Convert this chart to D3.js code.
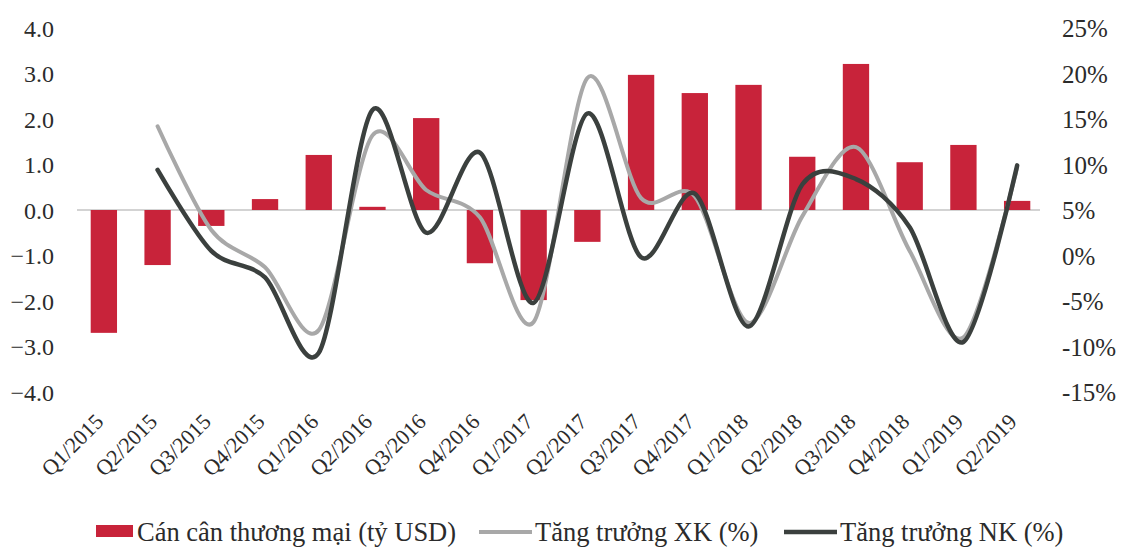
<!DOCTYPE html>
<html>
<head>
<meta charset="utf-8">
<script src="https://cdnjs.cloudflare.com/ajax/libs/d3/7.8.5/d3.min.js"></script>
<style>
  html, body { margin: 0; padding: 0; background: #fff; }
  svg { display: block; font-family: "Liberation Serif", "DejaVu Serif", serif; }
</style>
</head>
<body>
<div id="chart"></div>
<script>
// Quarters on the x axis
const quarters = [
    'Q1/2015', 'Q2/2015', 'Q3/2015', 'Q4/2015',
    'Q1/2016', 'Q2/2016', 'Q3/2016', 'Q4/2016',
    'Q1/2017', 'Q2/2017', 'Q3/2017', 'Q4/2017',
    'Q1/2018', 'Q2/2018', 'Q3/2018', 'Q4/2018',
    'Q1/2019', 'Q2/2019'
];

// Trade balance, billion USD (bars, left axis)
const tradeBalance = [
    -2.70, -1.21, -0.35, 0.24,
    1.21, 0.07, 2.02, -1.17,
    -1.98, -0.70, 2.97, 2.57,
    2.75, 1.17, 3.21, 1.05,
    1.43, 0.20
];

// Export growth, % (light line, right axis)
const exportGrowth = [
    null, 14.2, 2.8, -1.3,
    -8.2, 13.2, 7.2, 4.2,
    -7.3, 19.5, 6.3, 6.5,
    -7.4, 4.3, 11.9, 0.5,
    -9.0, 9.7
];

// Import growth, % (dark line, right axis)
const importGrowth = [
    null, 9.4, 0.5, -2.4,
    -10.7, 16.0, 2.5, 11.3,
    -5.2, 15.6, -0.2, 6.8,
    -7.8, 7.8, 8.4, 3.1,
    -9.5, 9.9
];

const leftTicks = [4, 3, 2, 1, 0, -1, -2, -3, -4];
const rightTicks = [25, 20, 15, 10, 5, 0, -5, -10, -15];

const legendItems = [
    { label: 'Cán cân thương mại (tỷ USD)', type: 'bar' },
    { label: 'Tăng trưởng XK (%)', type: 'xk' },
    { label: 'Tăng trưởng NK (%)', type: 'nk' }
];

const W = 1122, H = 547;
const plot = { left: 77, right: 1044, top: 28, bottom: 392 };
const colors = { bar: '#c8233a', xk: '#a8a8a8', nk: '#3b403e', zero: '#c4c4c4', text: '#2b2b2b' };

const svg = d3.select('#chart').append('svg')
    .attr('width', W)
    .attr('height', H);

const x = d3.scaleBand()
    .domain(quarters)
    .range([plot.left, plot.right])
    .paddingInner(0.51)
    .paddingOuter(0.255);

const yLeft = d3.scaleLinear().domain([-4, 4]).range([plot.bottom, plot.top]);
const yRight = d3.scaleLinear().domain([-15, 25]).range([plot.bottom, plot.top]);

const cx = q => x(q) + x.bandwidth() / 2;

// left axis labels
const leftAxis = d3.axisLeft(yLeft)
    .tickValues(leftTicks)
    .tickFormat(d3.format('.1f'))
    .tickSize(0)
    .tickPadding(0);
svg.append('g')
    .attr('transform', 'translate(54,0)')
    .call(leftAxis)
    .call(g => g.select('.domain').remove())
    .selectAll('text')
    .attr('font-size', 24)
    .attr('font-family', '"Liberation Serif", serif')
    .attr('fill', colors.text)
    .attr('dy', '0.34em');

// right axis labels
const rightAxis = d3.axisRight(yRight)
    .tickValues(rightTicks)
    .tickFormat(d => d + '%')
    .tickSize(0)
    .tickPadding(0);
svg.append('g')
    .attr('transform', 'translate(1062,0)')
    .call(rightAxis)
    .call(g => g.select('.domain').remove())
    .selectAll('text')
    .attr('font-size', 25)
    .attr('font-family', '"Liberation Serif", serif')
    .attr('fill', colors.text)
    .attr('dy', '0.34em');

// zero line
svg.append('line')
    .attr('x1', plot.left)
    .attr('x2', plot.right - 4)
    .attr('y1', yLeft(0))
    .attr('y2', yLeft(0))
    .attr('stroke', colors.zero)
    .attr('stroke-width', 1.5);

// bars
svg.append('g')
    .selectAll('rect')
    .data(tradeBalance)
    .enter()
    .append('rect')
    .attr('x', (d, i) => x(quarters[i]))
    .attr('width', x.bandwidth())
    .attr('y', d => yLeft(Math.max(0, d)))
    .attr('height', d => Math.abs(yLeft(d) - yLeft(0)))
    .attr('fill', colors.bar);

// smooth lines
const line = d3.line()
    .defined(d => d.v !== null)
    .x(d => cx(d.q))
    .y(d => yRight(d.v))
    .curve(d3.curveCardinal.tension(0.1));

const toPts = arr => arr.map((v, i) => ({ q: quarters[i], v }));

svg.append('path')
    .datum(toPts(exportGrowth))
    .attr('d', line)
    .attr('fill', 'none')
    .attr('stroke', colors.xk)
    .attr('stroke-width', 4)
    .attr('stroke-linecap', 'round');

svg.append('path')
    .datum(toPts(importGrowth))
    .attr('d', line)
    .attr('fill', 'none')
    .attr('stroke', colors.nk)
    .attr('stroke-width', 4.5)
    .attr('stroke-linecap', 'round');

// rotated quarter labels
svg.append('g')
    .selectAll('text')
    .data(quarters)
    .enter()
    .append('text')
    .attr('transform', d => `translate(${cx(d) + 1},${423}) rotate(-45)`)
    .attr('text-anchor', 'end')
    .attr('font-size', 22)
    .attr('fill', colors.text)
    .text(d => d);

// legend
const legendX = [96, 479, 784];
const legend = svg.append('g').attr('class', 'legend');
legendItems.forEach((item, i) => {
    const g = legend.append('g').attr('transform', `translate(${legendX[i]},0)`);
    if (item.type === 'bar') {
        g.append('rect')
            .attr('x', 0).attr('y', 525)
            .attr('width', 37).attr('height', 12)
            .attr('fill', colors.bar);
    } else {
        g.append('line')
            .attr('x1', 0).attr('x2', 53)
            .attr('y1', 532).attr('y2', 532)
            .attr('stroke', colors[item.type])
            .attr('stroke-width', item.type === 'nk' ? 4.5 : 4);
    }
    g.append('text')
        .attr('x', item.type === 'bar' ? 41 : 56)
        .attr('y', 541)
        .attr('font-size', 26.5)
        .attr('fill', colors.text)
        .text(item.label);
});
</script>
</body>
</html>
